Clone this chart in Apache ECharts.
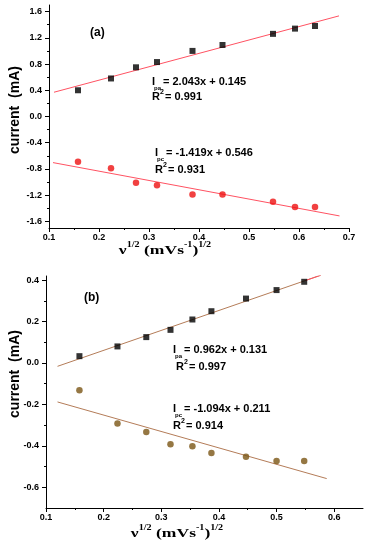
<!DOCTYPE html>
<html>
<head>
<meta charset="utf-8">
<script src="https://cdn.jsdelivr.net/npm/echarts@6/dist/echarts.min.js"></script>
<style>
html,body{margin:0;padding:0;background:#fff;}
#c{width:367px;height:550px;}
</style>
</head>
<body>
<div id="c"></div>
<script>
// ---- data: panel (a) ----
const xA = [0.158, 0.224, 0.274, 0.316, 0.387, 0.447, 0.548, 0.592, 0.632];
const ipaA = [0.40, 0.58, 0.75, 0.83, 1.00, 1.09, 1.26, 1.34, 1.38];
const ipcA = [-0.69, -0.79, -1.01, -1.05, -1.19, -1.19, -1.30, -1.38, -1.38];
const fitPaA = [[0.11, 0.370], [0.68, 1.534]];
const fitPcA = [[0.108, -0.703], [0.681, -1.516]];
// ---- data: panel (b) ----
const xB = [0.158, 0.224, 0.274, 0.316, 0.354, 0.387, 0.447, 0.500, 0.548];
const ipaB = [0.033, 0.080, 0.125, 0.160, 0.210, 0.250, 0.311, 0.352, 0.392];
const ipcB = [-0.131, -0.292, -0.333, -0.392, -0.402, -0.434, -0.452, -0.473, -0.473];
const fitPaB = [[0.12, -0.016], [0.577, 0.424]];
const fitPaBTip = [[0.55, 0.398], [0.577, 0.424]];
const fitPcB = [[0.12, -0.188], [0.587, -0.558]];
// ---- ticks ----
const xTicksA = [0.1, 0.2, 0.3, 0.4, 0.5, 0.6, 0.7];
const xMinorA = [0.15, 0.25, 0.35, 0.45, 0.55, 0.65];
const yTicksA = [-1.6, -1.2, -0.8, -0.4, 0.0, 0.4, 0.8, 1.2, 1.6];
const yMinorA = [-1.4, -1.0, -0.6, -0.2, 0.2, 0.6, 1.0, 1.4];
const xTicksB = [0.1, 0.2, 0.3, 0.4, 0.5, 0.6];
const xMinorB = [0.15, 0.25, 0.35, 0.45, 0.55];
const yTicksB = [-0.6, -0.4, -0.2, 0.0, 0.2, 0.4];
const yMinorB = [-0.5, -0.3, -0.1, 0.1, 0.3];

const zip = (xs, ys) => xs.map((x, i) => [x, ys[i]]);
const SANS = 'Arial, "Liberation Sans", sans-serif';
const SERIF = '"Times New Roman", "Liberation Serif", serif';

function majorAxis(gridIndex, min, max, ticks, isX) {
  return {
    type: 'value', gridIndex, min, max, position: isX ? 'bottom' : 'left',
    axisLine: { show: true, onZero: false, lineStyle: { color: '#000', width: 1 } },
    axisTick: { show: true, inside: false, length: 4, customValues: ticks, lineStyle: { color: '#000', width: 1 } },
    axisLabel: { show: true, customValues: ticks, color: '#000', fontSize: 9, fontWeight: 'bold', fontFamily: SANS,
      margin: isX ? 5 : 7, formatter: v => (Math.abs(v) < 1e-9 ? 0 : v).toFixed(1) },
    splitLine: { show: false }
  };
}
function minorAxis(gridIndex, min, max, ticks, isX) {
  return {
    type: 'value', gridIndex, min, max, position: isX ? 'bottom' : 'left', offset: 0,
    axisLine: { show: false, onZero: false },
    axisTick: { show: true, inside: false, length: 2, customValues: ticks, lineStyle: { color: '#000', width: 1 } },
    axisLabel: { show: false },
    splitLine: { show: false }
  };
}

function txt(x, y, text, size, opts) {
  return Object.assign({
    type: 'text', x: x, y: y, z: 100,
    style: { text: text, fill: '#000', font: 'bold ' + size + 'px ' + SANS, textAlign: 'left', textVerticalAlign: 'middle' }
  }, opts || {});
}
function eq(x, y, sub, rest) {
  return [
    txt(x, y, 'I', 11),
    txt(x + 2, y + 6, sub, 6),
    txt(x + 11, y, rest, 11)
  ];
}
function r2(x, y, rest) {
  return [
    txt(x, y, 'R', 11),
    txt(x + 8, y - 5, '2', 7),
    txt(x + 13, y, rest, 11)
  ];
}
function xTitle(cx, cy) {
  return {
    type: 'text', x: cx, y: cy, z: 100, scaleX: 1.35,
    style: {
      text: '{n|ν}{s|1/2}{n| (mVs}{s|-1}{n|)}{s|1/2}',
      textAlign: 'center', textVerticalAlign: 'middle',
      rich: {
        n: { fontSize: 13, fontWeight: 'bold', fontFamily: SERIF, fill: '#000', lineHeight: 16, verticalAlign: 'bottom' },
        s: { fontSize: 7.5, fontWeight: 'bold', fontFamily: SERIF, fill: '#000', lineHeight: 16, verticalAlign: 'top' }
      }
    }
  };
}
function yTitle(cx, cy) {
  return {
    type: 'text', x: cx, y: cy, rotation: Math.PI / 2, z: 100,
    style: { text: 'current  (mA)', fill: '#000', font: 'bold 14px ' + SANS, textAlign: 'center', textVerticalAlign: 'middle' }
  };
}

const redLine = '#ff5262';
const brownLine = '#b47c58';

const option = {
  animation: false,
  backgroundColor: '#fff',
  grid: [
    { left: 49, top: 5, width: 300, height: 223 },
    { left: 46, top: 276, width: 317, height: 232 }
  ],
  xAxis: [
    majorAxis(0, 0.1, 0.7, xTicksA, true),
    majorAxis(1, 0.1, 0.65, xTicksB, true),
    minorAxis(0, 0.1, 0.7, xMinorA, true),
    minorAxis(1, 0.1, 0.65, xMinorB, true)
  ],
  yAxis: [
    majorAxis(0, -1.7, 1.7, yTicksA, false),
    majorAxis(1, -0.7, 0.42, yTicksB, false),
    minorAxis(0, -1.7, 1.7, yMinorA, false),
    minorAxis(1, -0.7, 0.42, yMinorB, false)
  ],
  series: [
    { type: 'line', xAxisIndex: 0, yAxisIndex: 0, data: fitPaA, showSymbol: false, lineStyle: { color: redLine, width: 1 }, z: 1, clip: true },
    { type: 'line', xAxisIndex: 0, yAxisIndex: 0, data: fitPcA, showSymbol: false, lineStyle: { color: redLine, width: 1 }, z: 1, clip: true },
    { type: 'scatter', xAxisIndex: 0, yAxisIndex: 0, data: zip(xA, ipaA), symbol: 'rect', symbolSize: 6, itemStyle: { color: '#000' }, z: 3 },
    { type: 'scatter', xAxisIndex: 0, yAxisIndex: 0, data: zip(xA, ipcA), symbol: 'circle', symbolSize: 6.5, itemStyle: { color: '#ee1111' }, z: 3 },

    { type: 'line', xAxisIndex: 1, yAxisIndex: 1, data: fitPaB, showSymbol: false, lineStyle: { color: brownLine, width: 1 }, z: 1, clip: true },
    { type: 'line', xAxisIndex: 1, yAxisIndex: 1, data: fitPaBTip, showSymbol: false, lineStyle: { color: redLine, width: 1 }, z: 2, clip: true },
    { type: 'line', xAxisIndex: 1, yAxisIndex: 1, data: fitPcB, showSymbol: false, lineStyle: { color: brownLine, width: 1 }, z: 1, clip: true },
    { type: 'scatter', xAxisIndex: 1, yAxisIndex: 1, data: zip(xB, ipaB), symbol: 'rect', symbolSize: 6, itemStyle: { color: '#000' }, z: 3 },
    { type: 'scatter', xAxisIndex: 1, yAxisIndex: 1, data: zip(xB, ipcB), symbol: 'circle', symbolSize: 6.5, itemStyle: { color: '#7a5514' }, z: 3 }
  ],
  graphic: [
    txt(90, 33, '(a)', 12),
    ...eq(152, 82, 'pa', '= 2.043x + 0.145'),
    ...r2(152, 97, '= 0.991'),
    ...eq(155, 153, 'pc', '= -1.419x + 0.546'),
    ...r2(155, 170, '= 0.931'),
    yTitle(15, 110),
    xTitle(165, 249),

    txt(84, 298, '(b)', 12),
    ...eq(173, 350, 'pa', '= 0.962x + 0.131'),
    ...r2(176, 367, '= 0.997'),
    ...eq(173, 409, 'pc', '= -1.094x + 0.211'),
    ...r2(173, 426, '= 0.914'),
    yTitle(15, 374),
    xTitle(177, 532)
  ]
};

const chart = echarts.init(document.getElementById('c'), null, { renderer: 'canvas' });
chart.setOption(option);
</script>
</body>
</html>
